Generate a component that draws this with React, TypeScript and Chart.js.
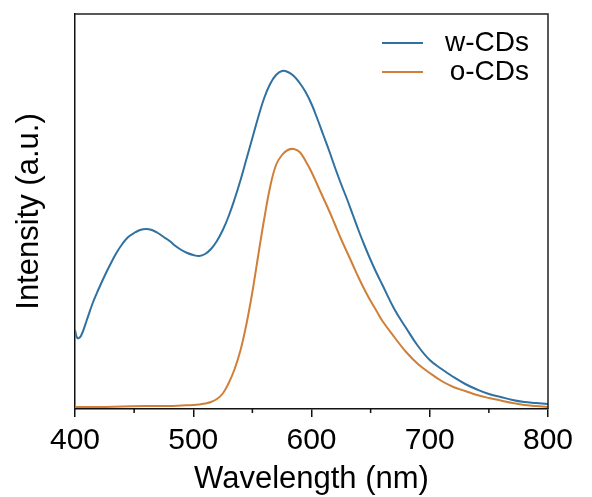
import React, { useEffect, useRef } from 'react';
import { Chart, registerables } from 'chart.js';

Chart.register(...registerables);

// ---- data ----
const seriesLabels = ['w-CDs', 'o-CDs'];
const seriesColors = ['#2f71a1', '#d07f38'];

const wWavelength = [400, 402, 405, 410, 415, 420, 425, 430, 435, 440, 445, 450, 455, 460, 465, 470, 475, 480, 485, 490, 495, 500, 505, 510, 515, 520, 525, 530, 535, 540, 545, 550, 555, 560, 565, 570, 575, 580, 585, 590, 595, 600, 605, 610, 615, 620, 625, 630, 635, 640, 645, 650, 655, 660, 670, 680, 690, 700, 710, 720, 730, 740, 750, 760, 770, 780, 790, 800];
const wIntensity = [79, 71, 73, 89, 106, 120, 133, 145, 156, 165, 172, 176, 179, 180, 179, 176, 172, 168, 163, 159, 156, 154, 153, 155, 160, 168, 179, 193, 210, 229, 250, 271, 292, 311, 325, 334, 338, 337, 333, 326, 317, 305, 290, 274, 258, 241, 225, 210, 194, 178, 163, 149, 136, 124, 100, 81, 63, 49, 40, 32, 25, 19.5, 15, 12, 9, 7, 6, 5];

const oWavelength = [400, 420, 440, 460, 480, 490, 500, 505, 510, 515, 520, 525, 530, 535, 540, 545, 550, 555, 560, 565, 570, 575, 580, 585, 590, 595, 600, 605, 610, 615, 620, 625, 630, 635, 640, 645, 650, 655, 660, 670, 680, 690, 700, 710, 720, 730, 740, 750, 760, 770, 780, 790, 800];
const oIntensity = [2, 2, 2.5, 3, 3, 3.5, 4, 4.5, 5.5, 7, 10, 15.5, 26, 40, 59, 85, 117, 154, 190, 222, 244, 254, 259, 260, 257, 248, 237, 224, 211, 198, 184, 170, 157, 144, 131, 119, 108, 98, 88, 72, 57, 45, 36, 28, 22, 18, 14, 11, 8.5, 6, 4, 3, 2];

const xTickValues = [400, 500, 600, 700, 800];
const xMinorTicks = [450, 550, 650, 750];

const FONT = "'Liberation Sans', Arial, Helvetica, sans-serif";

const framePlugin = {
  id: 'frameAndLegend',
  afterDraw(chart: any) {
    const { ctx, chartArea, scales } = chart;
    ctx.save();
    // top & right frame
    ctx.strokeStyle = '#222';
    ctx.lineWidth = 1.5;
    ctx.beginPath();
    ctx.moveTo(chartArea.left, chartArea.top);
    ctx.lineTo(chartArea.right, chartArea.top);
    ctx.lineTo(chartArea.right, chartArea.bottom);
    ctx.stroke();
    // minor ticks
    ctx.strokeStyle = '#111';
    ctx.beginPath();
    xMinorTicks.forEach((v) => {
      const px = scales.x.getPixelForValue(v);
      ctx.moveTo(px, chartArea.bottom);
      ctx.lineTo(px, chartArea.bottom + 4);
    });
    ctx.stroke();
    // legend
    const ys = [43, 72];
    chart.data.datasets.forEach((ds: any, i: number) => {
      ctx.strokeStyle = ds.borderColor;
      ctx.lineWidth = 2;
      ctx.beginPath();
      ctx.moveTo(382, ys[i]);
      ctx.lineTo(423, ys[i]);
      ctx.stroke();
      ctx.fillStyle = '#000';
      ctx.font = `28px ${FONT}`;
      ctx.textAlign = 'right';
      ctx.textBaseline = 'middle';
      ctx.fillText(ds.label, 529, ys[i]);
    });
    ctx.restore();
  },
};

export default function App() {
  const ref = useRef<HTMLCanvasElement | null>(null);

  useEffect(() => {
    document.body.style.margin = '0';
    const canvas = ref.current;
    if (!canvas) return;
    const chart = new Chart(canvas, {
      type: 'line',
      data: {
        datasets: [
          {
            label: seriesLabels[0],
            data: wWavelength.map((x, i) => ({ x, y: wIntensity[i] })),
            borderColor: seriesColors[0],
            borderWidth: 2,
            pointRadius: 0,
            tension: 0.4,
            fill: false,
          },
          {
            label: seriesLabels[1],
            data: oWavelength.map((x, i) => ({ x, y: oIntensity[i] })),
            borderColor: seriesColors[1],
            borderWidth: 2,
            pointRadius: 0,
            tension: 0.4,
            fill: false,
          },
        ],
      },
      options: {
        responsive: false,
        animation: false,
        devicePixelRatio: 1,
        layout: { padding: { top: 14, right: 44, left: 0, bottom: 0 } },
        font: { family: FONT },
        plugins: { legend: { display: false }, tooltip: { enabled: false } },
        scales: {
          x: {
            type: 'linear',
            min: 400,
            max: 800,
            afterBuildTicks: (scale: any) => {
              scale.ticks = xTickValues.map((value) => ({ value }));
            },
            ticks: {
              font: { family: FONT, size: 30, lineHeight: 1 },
              color: '#000',
              padding: 9,
              maxRotation: 0,
              autoSkip: false,
            },
            grid: {
              display: true,
              drawOnChartArea: false,
              drawTicks: true,
              tickLength: 8,
              color: '#111',
              lineWidth: 1.5,
            },
            border: { display: true, color: '#111', width: 1.5 },
            title: {
              display: true,
              text: 'Wavelength (nm)',
              font: { family: FONT, size: 31, lineHeight: 1 },
              color: '#000',
              padding: { top: -1, bottom: 2 },
            },
          },
          y: {
            min: 0,
            max: 395,
            ticks: { display: false },
            grid: { display: false, drawTicks: false },
            border: { display: true, color: '#111', width: 1.5 },
            title: {
              display: true,
              text: 'Intensity (a.u.)',
              font: { family: FONT, size: 31, lineHeight: 1 },
              color: '#000',
              padding: { top: 14, bottom: 30 },
            },
          },
        },
      },
      plugins: [framePlugin],
    } as any);
    return () => chart.destroy();
  }, []);

  return (
    <div style={{ width: 592, height: 497, background: '#fff' }}>
      <canvas ref={ref} width={592} height={497} style={{ display: 'block' }} />
    </div>
  );
}
